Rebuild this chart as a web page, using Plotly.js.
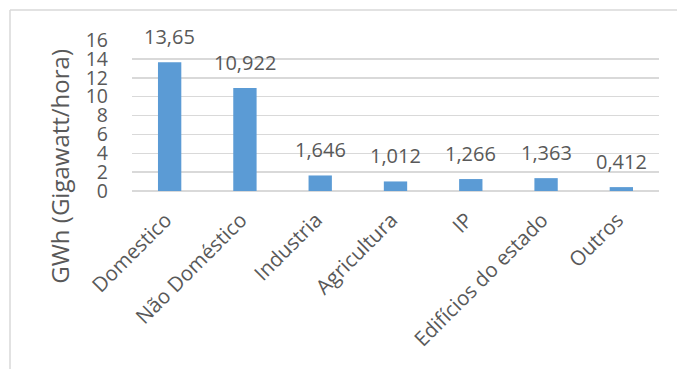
<!DOCTYPE html>
<html>
<head>
<meta charset="utf-8">
<script src="https://cdn.plot.ly/plotly-3.0.1.min.js"></script>
<style>
  html, body { margin: 0; padding: 0; background: #fff; overflow: hidden; }
  #chart { width: 677px; height: 369px; }
</style>
</head>
<body>
<div id="chart"></div>
<script>
const categories = ["Domestico", "Não Doméstico", "Industria", "Agricultura", "IP", "Edifícios do estado", "Outros"];
const values = [13.65, 10.922, 1.646, 1.012, 1.266, 1.363, 0.412];
const yTicks = [0, 2, 4, 6, 8, 10, 12, 14, 16];
const yTitle = "GWh (Gigawatt/hora)";

const textColor = "#595959";
const font = "Open Sans, sans-serif";

const labelAnnotations = categories.map((c, i) => ({
  x: c, y: values[i], xref: "x", yref: "y",
  text: String(values[i]).replace(".", ","),
  showarrow: false, yanchor: "bottom", xanchor: "center", yshift: 10,
  font: { family: font, size: 20, color: textColor }
}));

const trace = {
  type: "bar",
  x: categories,
  y: values,
  marker: { color: "#5b9bd5" },
  width: 0.31,
  hoverinfo: "skip"
};

const layout = {
  width: 677, height: 369,
  margin: { l: 132, r: 18, t: 40, b: 178 },
  paper_bgcolor: "#ffffff", plot_bgcolor: "#ffffff",
  showlegend: false,
  xaxis: {
    type: "category",
    tickangle: -45,
    tickfont: { family: font, size: 20.5, color: textColor },
    ticklabelstandoff: 12,
    ticklabelshift: -4,
    showgrid: false, zeroline: false, showline: false, ticks: ""
  },
  yaxis: {
    range: [0, 16],
    tickvals: yTicks,
    ticktext: yTicks.map(String),
    tickfont: { family: font, size: 19.5, color: textColor },
    ticklabelstandoff: 23,
    showgrid: true, gridcolor: "#d9d9d9", gridwidth: 1.5,
    zeroline: true, zerolinecolor: "#d9d9d9", zerolinewidth: 1.5,
    showline: false, ticks: ""
  },
  annotations: labelAnnotations.concat([{
    text: yTitle, xref: "paper", yref: "paper",
    x: -0.137, y: 0.166, xanchor: "center", yanchor: "middle",
    textangle: -90, showarrow: false,
    font: { family: font, size: 24, color: textColor }
  }]),
  shapes: [
    { type: "line", xref: "paper", yref: "paper", x0: -0.2315, x1: -0.2315, y0: 1.1987, y1: -1.4,
      line: { color: "#d9d9d9", width: 1.5 } },
    { type: "line", xref: "paper", yref: "paper", x0: -0.2315, x1: 1.2, y0: 1.1987, y1: 1.1987,
      line: { color: "#d9d9d9", width: 1.5 } }
  ]
};

Plotly.newPlot("chart", [trace], layout, { staticPlot: true, displayModeBar: false });
</script>
</body>
</html>
